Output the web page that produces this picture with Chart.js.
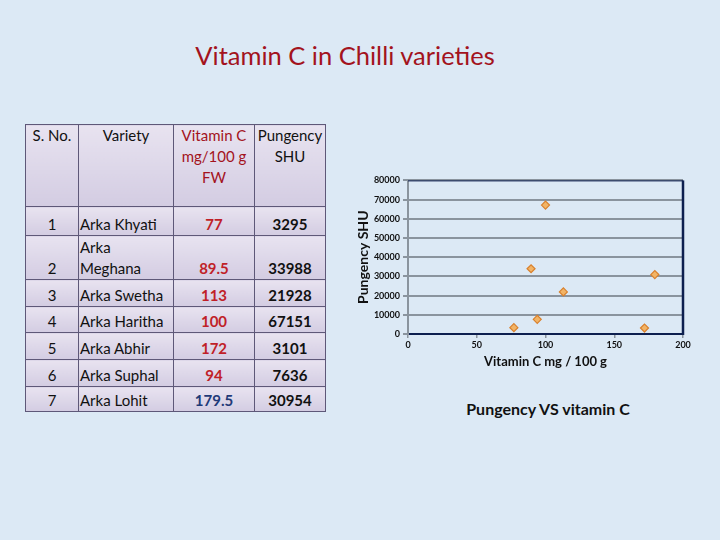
<!DOCTYPE html>
<html>
<head>
<meta charset="utf-8">
<script src="https://cdn.jsdelivr.net/npm/chart.js@4"></script>
<style>
  body { margin:0; width:720px; height:540px; background:#dce9f5; font-family:Lato, "Open Sans", sans-serif; position:relative; overflow:hidden; }
  #title { position:absolute; left:0; width:690px; top:40px; text-align:center; font-size:25.5px; color:#a3131d; }
  table { position:absolute; left:25px; top:124px; border-collapse:collapse; font-size:15px; color:#111; }
  td, th { border:1px solid #5e5878; padding:0 2px; background:linear-gradient(#e8e3f0,#d3cce2); line-height:21px; }
  th { font-weight:normal; vertical-align:top; text-align:center; height:81px; }
  td { vertical-align:bottom; text-align:center; }
  td.v { text-align:left; padding-left:1px; }
  td.c { color:#c01f28; font-weight:bold; }
  td.p { font-weight:bold; }
  #wrap { position:absolute; left:355px; top:172px; width:345px; height:200px; }
  #sub { position:absolute; left:420px; width:256px; top:399px; text-align:center; font-size:16px; font-weight:bold; color:#111; }
</style>
</head>
<body>
<div id="title">Vitamin C in Chilli varieties</div>
<table id="tbl">
  <tr><th style="width:48px">S. No.</th><th style="width:90px">Variety</th><th style="width:76px;color:#a3131d">Vitamin C mg/100 g FW</th><th style="width:68px;padding:0 1px">Pungency SHU</th></tr>
</table>
<div id="wrap"><canvas id="chart"></canvas></div>
<div id="sub">Pungency VS vitamin C</div>
<script>
var serialNo = [1, 2, 3, 4, 5, 6, 7];
var varieties = ["Arka Khyati", "Arka Meghana", "Arka Swetha", "Arka Haritha", "Arka Abhir", "Arka Suphal", "Arka Lohit"];
var vitaminC = [77, 89.5, 113, 100, 172, 94, 179.5];
var pungency = [3295, 33988, 21928, 67151, 3101, 7636, 30954];
var rowHeights = [28, 43, 26, 25, 26, 26, 24];

// table rows
var tbl = document.getElementById("tbl");
for (var i = 0; i < varieties.length; i++) {
  var tr = document.createElement("tr");
  var name = varieties[i] == "Arka Meghana" ? "Arka<br>Meghana" : varieties[i];
  var cColor = i == 6 ? ' style="color:#1f3a78"' : '';
  tr.innerHTML = '<td style="height:' + rowHeights[i] + 'px">' + serialNo[i] + '</td><td class="v">' + name +
    '</td><td class="c"' + cColor + '>' + vitaminC[i] + '</td><td class="p">' + pungency[i] + '</td>';
  tbl.appendChild(tr);
}

var points = [];
for (var i = 0; i < vitaminC.length; i++) {
  points.push({x: vitaminC[i], y: pungency[i]});
}

// navy frame on top and right of plot
var frame = {
  id: 'frame',
  afterDraw: function(chart) {
    var a = chart.chartArea, c = chart.ctx;
    c.save();
    c.strokeStyle = '#0d1f4f';
    c.lineWidth = 1;
    c.beginPath(); c.moveTo(a.left, a.top + 0.5); c.lineTo(a.right, a.top + 0.5); c.stroke();
    c.lineWidth = 2.5;
    c.beginPath(); c.moveTo(a.right, a.top); c.lineTo(a.right, a.bottom + 1); c.stroke();
    c.restore();
  }
};

new Chart(document.getElementById("chart"), {
  type: 'scatter',
  data: {
    datasets: [{
      label: 'Pungency SHU',
      data: points,
      pointStyle: 'rectRot',
      pointRadius: 4,
      pointBackgroundColor: '#f2b466',
      pointBorderColor: '#d9802c',
      pointBorderWidth: 1.2
    }]
  },
  options: {
    responsive: true,
    maintainAspectRatio: false,
    animation: false,
    layout: { padding: { top: 8, right: 17 } },
    plugins: { legend: { display: false }, tooltip: { enabled: false } },
    scales: {
      x: {
        min: 0, max: 200,
        ticks: { stepSize: 50, color: '#111', font: { family: 'Lato', size: 9, weight: 'bold' }, padding: 2 },
        grid: { drawOnChartArea: false, color: '#8a949e', tickLength: 4, lineWidth: 1.5 },
        border: { color: '#0d1f4f', width: 2 },
        title: { display: true, text: 'Vitamin C mg / 100 g', color: '#111', font: { family: 'Lato', size: 13, weight: 'bold' }, padding: { top: 0, bottom: 2 } },
        afterFit: function(s) { s.height = 38; }
      },
      y: {
        min: 0, max: 80000,
        ticks: {
          stepSize: 10000, color: '#111', font: { family: 'Lato', size: 9, weight: 'bold' }, padding: 3,
          callback: function(v) { return String(v); }
        },
        grid: { color: '#8a949e', lineWidth: 2, tickLength: 5 },
        border: { color: '#8a949e', width: 2 },
        title: { display: true, text: 'Pungency SHU', color: '#111', font: { family: 'Lato', size: 14, weight: 'bold' }, padding: 0 },
        afterFit: function(s) { s.width = 53; }
      }
    }
  },
  plugins: [frame]
});
</script>
</body>
</html>
